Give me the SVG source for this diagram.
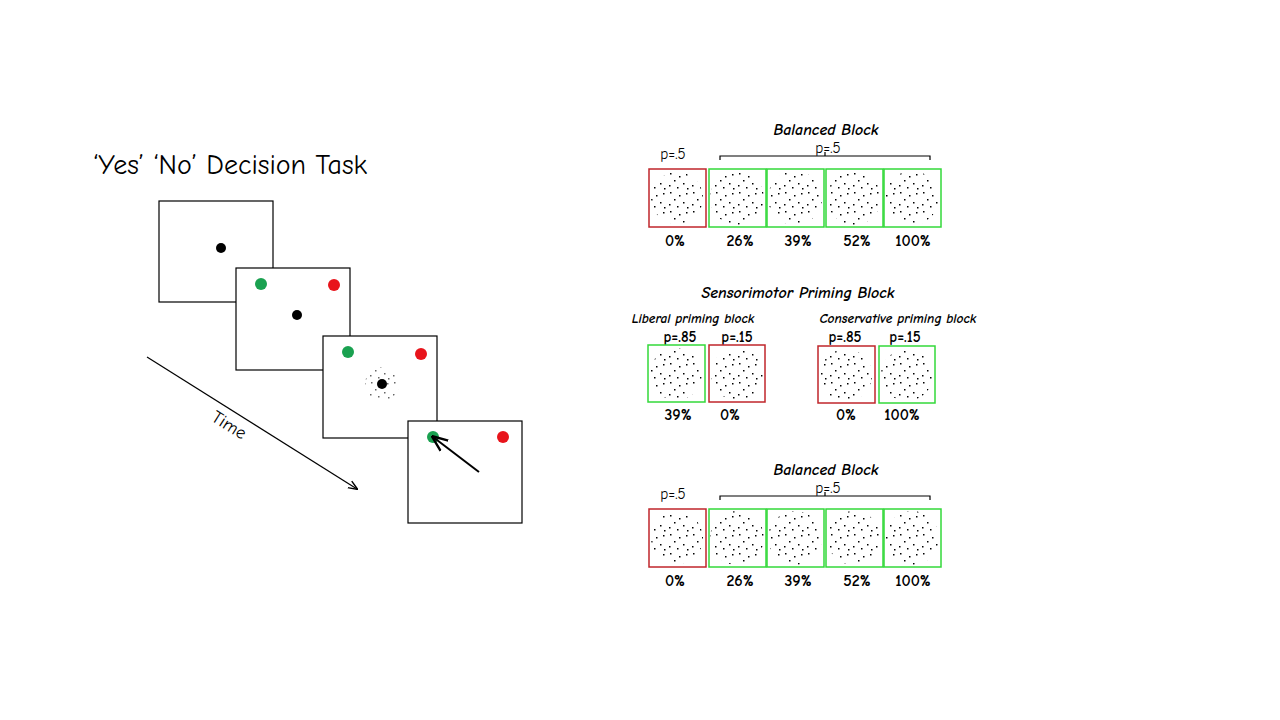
<svg xmlns="http://www.w3.org/2000/svg" width="1280" height="720" viewBox="0 0 1280 720">
<style>
text{font-family:"Comic Neue","DejaVu Sans",sans-serif;fill:#000}
.t{font-size:16px;font-style:italic;font-weight:bold;text-anchor:middle}
.s{font-size:13.5px;font-style:italic;font-weight:bold;text-anchor:middle}
.p{font-size:15px;text-anchor:middle}
.pb{font-size:15px;font-weight:bold;text-anchor:middle}
.l{font-size:16px;font-weight:bold;text-anchor:middle}
.fr{fill:#fff;stroke:#000;stroke-width:1.2}
.r{fill:#fff;stroke:#c0262b;stroke-width:1.5}
.g{fill:#fff;stroke:#33d93a;stroke-width:1.5}
.d{fill:url(#dots)}
</style>
<defs>
<pattern id="dots" width="23" height="19" patternUnits="userSpaceOnUse">
<rect x="3" y="2" width="1.5" height="1.5" fill="#000"/><rect x="12" y="5" width="1.5" height="1.5" fill="#000"/><rect x="19" y="3" width="1.5" height="1.5" fill="#000"/><rect x="7" y="9" width="1.5" height="1.5" fill="#000"/><rect x="16" y="12" width="1.5" height="1.5" fill="#000"/><rect x="2" y="14" width="1.5" height="1.5" fill="#000"/><rect x="10" y="16" width="1.5" height="1.5" fill="#000"/><rect x="20" y="17" width="1.5" height="1.5" fill="#000"/>
</pattern>
<marker id="ah" viewBox="0 0 10 10" refX="9" refY="5" markerWidth="8" markerHeight="8" orient="auto-start-reverse"><path d="M0,1 L10,5 L0,9" fill="none" stroke="#000" stroke-width="1.5"/></marker>
</defs>
<rect width="1280" height="720" fill="#fff"/>
<text x="93" y="174" font-size="28">‘Yes’ ‘No’ Decision Task</text>
<g id="frame1"><rect class="fr" x="159" y="201" width="114" height="101"/><circle cx="221" cy="248" r="5" fill="#000"/></g>
<g id="frame2"><rect class="fr" x="236" y="268" width="114" height="102"/><circle cx="261" cy="284" r="6" fill="#1aa150"/><circle cx="334" cy="285" r="6" fill="#e8141b"/><circle cx="297" cy="315" r="5" fill="#000"/></g>
<g id="frame3"><rect class="fr" x="323" y="336" width="114" height="102"/><circle cx="348" cy="352" r="6" fill="#1aa150"/><circle cx="421" cy="354" r="6" fill="#e8141b"/><circle cx="382" cy="384" r="17" class="d" opacity="0.6"/><circle cx="382" cy="384" r="5" fill="#000"/></g>
<g id="frame4"><rect class="fr" x="408" y="421" width="114" height="102"/><circle cx="433" cy="437" r="6" fill="#1aa150"/><circle cx="503" cy="437" r="6" fill="#e8141b"/></g>
<g id="connectors">
<line x1="479" y1="472" x2="433" y2="437" stroke="#000" stroke-width="2" marker-end="url(#ah)"/>
<line x1="147" y1="357" x2="357" y2="489" stroke="#000" stroke-width="1.2" marker-end="url(#ah)"/>
<path d="M720,160 V156 H930 V160 M825,156 V152" fill="none" stroke="#000" stroke-width="1.2"/>
<path d="M720,500 V496 H930 V500 M825,496 V492" fill="none" stroke="#000" stroke-width="1.2"/>
</g>
<text x="226" y="430" font-size="18" text-anchor="middle" transform="rotate(32 226 430)">Time</text>
<g id="balanced1">
<text class="t" x="826" y="135">Balanced Block</text>
<text class="p" x="673" y="159">p=.5</text><text class="p" x="828" y="153">p=.5</text>
<rect class="r" x="649" y="169" width="57" height="58"/><rect class="g" x="709" y="169" width="57" height="58"/><rect class="g" x="767" y="169" width="57" height="58"/><rect class="g" x="826" y="169" width="57" height="58"/><rect class="g" x="884" y="169" width="57" height="58"/>
<circle class="d" cx="677" cy="198" r="26"/><circle class="d" cx="737" cy="198" r="27"/><circle class="d" cx="795" cy="198" r="27"/><circle class="d" cx="854" cy="198" r="27"/><circle class="d" cx="912" cy="198" r="27"/>
<text class="l" x="675" y="246">0%</text><text class="l" x="740" y="246">26%</text><text class="l" x="798" y="246">39%</text><text class="l" x="857" y="246">52%</text><text class="l" x="913" y="246">100%</text>
</g>
<g id="priming">
<text class="t" x="798" y="298">Sensorimotor Priming Block</text>
<text class="s" x="693" y="323">Liberal priming block</text><text class="s" x="898" y="323">Conservative priming block</text>
<text class="pb" x="680" y="342">p=.85</text><text class="pb" x="737" y="342">p=.15</text><text class="pb" x="845" y="342">p=.85</text><text class="pb" x="905" y="342">p=.15</text>
<rect class="g" x="648" y="345" width="57" height="57"/><rect class="r" x="709" y="345" width="56" height="57"/><rect class="r" x="818" y="346" width="57" height="57"/><rect class="g" x="879" y="346" width="56" height="57"/>
<circle class="d" cx="676" cy="374" r="26"/><circle class="d" cx="737" cy="374" r="26"/><circle class="d" cx="846" cy="375" r="26"/><circle class="d" cx="907" cy="375" r="26"/>
<text class="l" x="678" y="420">39%</text><text class="l" x="730" y="420">0%</text><text class="l" x="846" y="420">0%</text><text class="l" x="902" y="420">100%</text>
</g>
<g id="balanced2">
<text class="t" x="826" y="475">Balanced Block</text>
<text class="p" x="673" y="499">p=.5</text><text class="p" x="828" y="493">p=.5</text>
<rect class="r" x="649" y="509" width="57" height="58"/><rect class="g" x="709" y="509" width="57" height="58"/><rect class="g" x="767" y="509" width="57" height="58"/><rect class="g" x="826" y="509" width="57" height="58"/><rect class="g" x="884" y="509" width="57" height="58"/>
<circle class="d" cx="677" cy="538" r="26"/><circle class="d" cx="737" cy="538" r="27"/><circle class="d" cx="795" cy="538" r="27"/><circle class="d" cx="854" cy="538" r="27"/><circle class="d" cx="912" cy="538" r="27"/>
<text class="l" x="675" y="586">0%</text><text class="l" x="740" y="586">26%</text><text class="l" x="798" y="586">39%</text><text class="l" x="857" y="586">52%</text><text class="l" x="913" y="586">100%</text>
</g>
</svg>
